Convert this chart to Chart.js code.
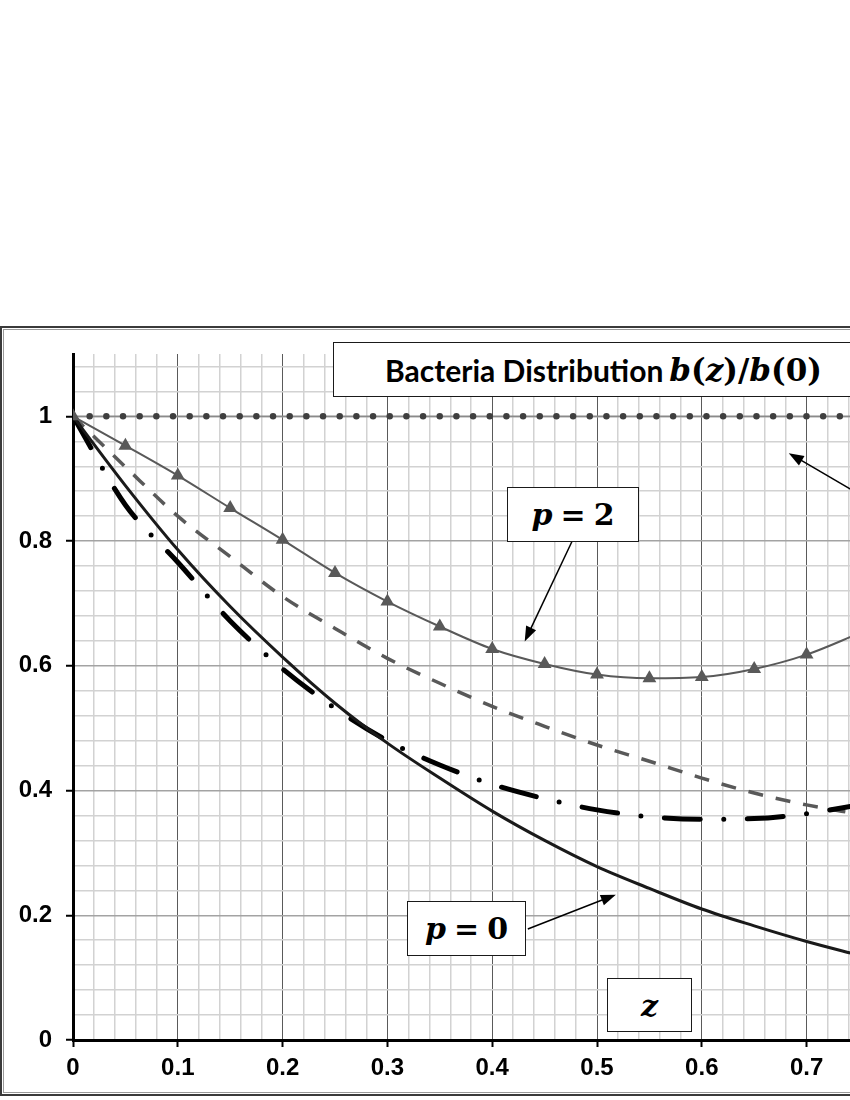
<!DOCTYPE html>
<html>
<head>
<meta charset="utf-8">
<script src="https://cdn.jsdelivr.net/npm/chart.js@4.4.0/dist/chart.umd.min.js"></script>
<style>
  html, body { margin: 0; padding: 0; background: #fff; overflow: hidden; width: 850px; height: 1100px; }
  #frame { position: absolute; left: 0; top: 326px; width: 1200px; height: 770px; box-sizing: border-box;
           border: 2px solid #3a3a3a; box-shadow: inset 0 0 0 1px #fff, inset 0 0 0 2px #9a9a9a; }
  #wrap { position: absolute; left: 0; top: 0; width: 1150px; height: 1100px; }
  .box { position: absolute; background: #fff; border: 1.5px solid #1a1a1a; box-sizing: border-box;
         display: flex; align-items: center; justify-content: center; white-space: nowrap; }
  .math { font-family: "DejaVu Serif", "Liberation Serif", serif; font-weight: bold; font-size: 30px; color: #000; }
  .math i { font-style: italic; }
  .eq { margin: 0 8px; }
  .sans { font-family: "Lato", "Liberation Sans", sans-serif; font-weight: bold; font-size: 30px; color: #000; }
  #title { left: 333px; top: 342px; width: 560px; height: 55px; justify-content: flex-start; padding-left: 51px; }
  #title .math { font-size: 31px; margin-left: 2px; }
  #p2 { left: 507px; top: 487px; width: 132px; height: 55px; }
  #p0 { left: 407px; top: 901px; width: 119px; height: 55px; }
  #zlab { left: 607px; top: 978px; width: 85px; height: 54px; }
</style>
</head>
<body>
<div id="frame"></div>
<div id="wrap"><canvas id="myChart" width="1150" height="1100"></canvas></div>
<div class="box" id="title"><span class="sans">Bacteria Distribution</span>&nbsp;<span class="math"><i>b</i>(<i>z</i>)/<i>b</i>(0)</span></div>
<div class="box math" id="p2"><i>p</i><span class="eq">=</span>2</div>
<div class="box math" id="p0"><i>p</i><span class="eq">=</span>0</div>
<div class="box math" id="zlab"><i>z</i></div>
<script>
// depth z
const Z = [0, 0.05, 0.1, 0.15, 0.2, 0.25, 0.3, 0.35, 0.4, 0.45, 0.5, 0.55, 0.6, 0.65, 0.7, 0.75];
// b(z)/b(0) curves
const B_FLAT    = [1, 1, 1, 1, 1, 1, 1, 1, 1, 1, 1, 1, 1, 1, 1, 1];
const B_P2      = [1, 0.953, 0.905, 0.853, 0.802, 0.749, 0.703, 0.663, 0.627, 0.603, 0.586, 0.580, 0.582, 0.595, 0.618, 0.652];
const B_DASHED  = [1, 0.919, 0.84, 0.775, 0.711, 0.66, 0.612, 0.572, 0.535, 0.503, 0.473, 0.447, 0.42, 0.396, 0.377, 0.362];
const B_DASHDOT = [1, 0.858, 0.766, 0.672, 0.595, 0.532, 0.48, 0.441, 0.41, 0.387, 0.369, 0.358, 0.354, 0.355, 0.363, 0.377];
const B_P0      = [1, 0.889, 0.786, 0.695, 0.614, 0.54, 0.476, 0.42, 0.367, 0.32, 0.278, 0.243, 0.21, 0.183, 0.158, 0.136];

const X_LABELS = ['0', '0.1', '0.2', '0.3', '0.4', '0.5', '0.6', '0.7', '0.8', '0.9', '1'];
const Y_LABELS = ['0', '0.2', '0.4', '0.6', '0.8', '1'];

const pts = (ys) => Z.map((z, i) => ({x: z, y: ys[i]}));
const isLabel = (list, v) => list.some(l => Math.abs(parseFloat(l) - v) < 1e-6);
const findLabel = (list, v) => list.find(l => Math.abs(parseFloat(l) - v) < 1e-6) || '';

const arrows = {
    id: 'arrows',
    afterDatasetsDraw: (chart) => {
        const ctx = chart.ctx;
        const xs = chart.scales.x, ys = chart.scales.y;
        const list = [
            [0.476, 0.799, 0.431, 0.639],
            [0.434, 0.178, 0.518, 0.233],
            [0.79, 0.836, 0.683, 0.941],
        ];
        list.forEach(a => {
            const x1 = xs.getPixelForValue(a[0]), y1 = ys.getPixelForValue(a[1]);
            const x2 = xs.getPixelForValue(a[2]), y2 = ys.getPixelForValue(a[3]);
            const ang = Math.atan2(y2 - y1, x2 - x1);
            const L = 15, W = 5.5;
            ctx.save();
            ctx.strokeStyle = '#000';
            ctx.fillStyle = '#000';
            ctx.lineWidth = 1.5;
            ctx.beginPath();
            ctx.moveTo(x1, y1);
            ctx.lineTo(x2 - L * 0.8 * Math.cos(ang), y2 - L * 0.8 * Math.sin(ang));
            ctx.stroke();
            ctx.beginPath();
            ctx.moveTo(x2, y2);
            ctx.lineTo(x2 - L * Math.cos(ang) + W * Math.sin(ang), y2 - L * Math.sin(ang) - W * Math.cos(ang));
            ctx.lineTo(x2 - L * Math.cos(ang) - W * Math.sin(ang), y2 - L * Math.sin(ang) + W * Math.cos(ang));
            ctx.closePath();
            ctx.fill();
            ctx.restore();
        });
    }
};

const chart = new Chart(document.getElementById('myChart'), {
    type: 'line',
    data: {
        datasets: [
            {
                label: 'p = 2',
                data: pts(B_P2),
                borderColor: '#595959',
                borderWidth: 2,
                pointStyle: 'triangle',
                pointRadius: 8,
                pointBackgroundColor: '#595959',
                pointBorderColor: '#595959',
                pointBorderWidth: 0,
                cubicInterpolationMode: 'monotone',
            },
            {
                label: 'flat dots',
                data: pts(B_FLAT),
                borderColor: '#3f3f3f',
                borderWidth: 6.5,
                borderDash: [0, 16.67],
                borderCapStyle: 'round',
                pointRadius: 0,
            },
            {
                label: 'flat line',
                data: pts(B_FLAT),
                borderColor: '#8a8a8a',
                borderWidth: 1.5,
                pointRadius: 0,
            },
            {
                label: 'p = 0',
                data: pts(B_P0),
                borderColor: '#1a1a1a',
                borderWidth: 3,
                pointRadius: 0,
                cubicInterpolationMode: 'monotone',
            },
            {
                label: 'dash dot',
                data: pts(B_DASHDOT),
                borderColor: '#000',
                borderWidth: 5,
                borderDash: [36, 23.5, 0, 23.5],
                borderCapStyle: 'round',
                pointRadius: 0,
                cubicInterpolationMode: 'monotone',
            },
            {
                label: 'dashed',
                data: pts(B_DASHED),
                borderColor: '#595959',
                borderWidth: 3.5,
                borderDash: [15, 13],
                pointRadius: 0,
                cubicInterpolationMode: 'monotone',
            },
        ]
    },
    options: {
        responsive: false,
        animation: false,
        events: [],
        layout: {
            padding: {top: 354, right: 29, bottom: 10, left: 0}
        },
        plugins: {
            legend: false,
            tooltip: false,
        },
        scales: {
            x: {
                type: 'linear',
                min: 0,
                max: 1,
                afterFit: (scale) => { scale.height = 50; },
                afterBuildTicks: (scale) => {
                    scale.ticks = [];
                    for (let k = 0; k <= 50; k++) scale.ticks.push({value: +(k * 0.02).toFixed(2)});
                },
                ticks: {
                    autoSkip: false,
                    maxRotation: 0,
                    padding: 7,
                    color: '#000',
                    font: {family: 'Liberation Sans', size: 24, weight: 'bold'},
                    callback: (v) => findLabel(X_LABELS, v),
                },
                grid: {
                    color: (c) => isLabel(X_LABELS, c.tick.value) ? '#5a5a5a' : '#d2d2d2',
                    lineWidth: (c) => isLabel(X_LABELS, c.tick.value) ? 1 : 1.5,
                    tickColor: (c) => isLabel(X_LABELS, c.tick.value) ? '#000' : 'rgba(0,0,0,0)',
                    tickLength: 7,
                    tickWidth: 2,
                },
                border: {color: '#000', width: 3},
            },
            y: {
                type: 'linear',
                min: 0,
                max: 1.1,
                afterFit: (scale) => { scale.width = 73; },
                afterBuildTicks: (scale) => {
                    scale.ticks = [];
                    for (let k = 0; k <= 27; k++) scale.ticks.push({value: +(k * 0.04).toFixed(2)});
                },
                ticks: {
                    autoSkip: false,
                    padding: 14,
                    color: '#000',
                    font: {family: 'Liberation Sans', size: 24, weight: 'bold'},
                    callback: (v) => findLabel(Y_LABELS, v),
                },
                grid: {
                    color: (c) => isLabel(Y_LABELS, c.tick.value) ? '#a3a3a3' : '#d2d2d2',
                    lineWidth: 1.5,
                    tickColor: (c) => isLabel(Y_LABELS, c.tick.value) ? '#000' : 'rgba(0,0,0,0)',
                    tickLength: 7,
                    tickWidth: 2,
                },
                border: {color: '#000', width: 3},
            }
        }
    },
    plugins: [arrows],
});
</script>
</body>
</html>
